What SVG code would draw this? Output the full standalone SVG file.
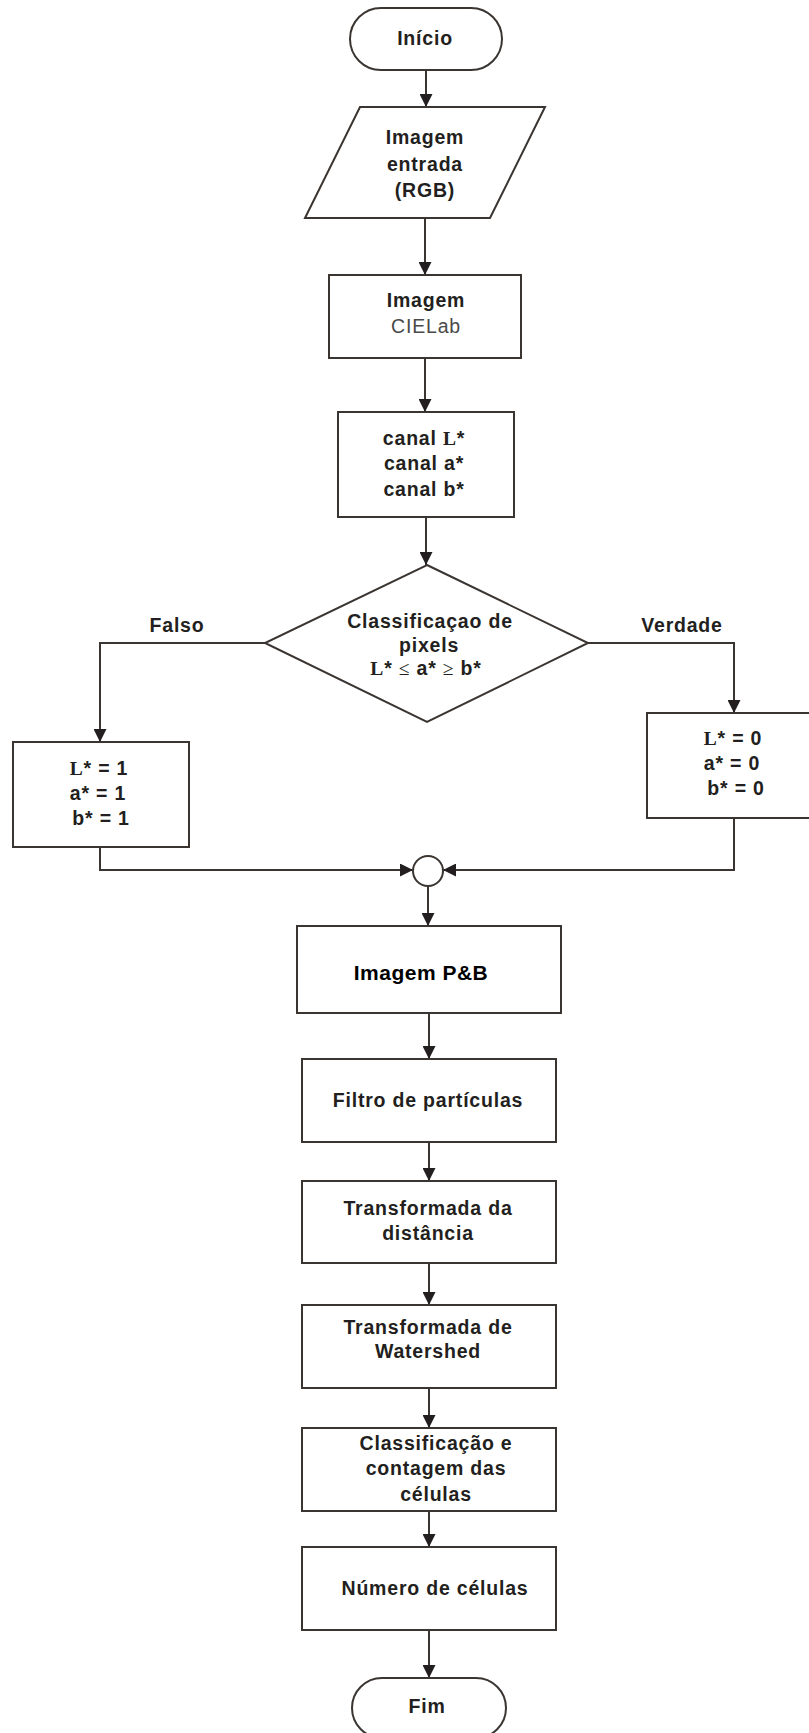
<svg xmlns="http://www.w3.org/2000/svg" width="809" height="1733" viewBox="0 0 809 1733">
<defs>
<marker id="arr" markerUnits="userSpaceOnUse" markerWidth="14" markerHeight="13" refX="13" refY="6.5" orient="auto">
<path d="M0,0 L13,6.5 L0,13 z" fill="#231f20"/>
</marker>
<style>
.s{fill:#fff;stroke:#3b3531;stroke-width:2}
.c{fill:none;stroke:#3b3531;stroke-width:2;marker-end:url(#arr)}
.t{font-family:"Liberation Sans",Arial,sans-serif;font-weight:bold;font-size:19.5px;letter-spacing:0.8px;fill:#231f20;text-anchor:middle}
.r{font-weight:normal;fill:#4a4a4a}
.sf{font-family:"Liberation Serif","Times New Roman",serif}
</style>
</defs>
<rect width="809" height="1733" fill="#fff"/>
<g id="connectors">
<path class="c" d="M426,70 V107"/>
<path class="c" d="M425,218 V275"/>
<path class="c" d="M425,358 V412"/>
<path class="c" d="M426,517 V565"/>
<path class="c" d="M265,643 H100 V742"/>
<path class="c" d="M588,643 H734 V713"/>
<path class="c" d="M100,847 V870 H413"/>
<path class="c" d="M734,818 V870 H443"/>
<path class="c" d="M428,886 V926"/>
<path class="c" d="M429,1013 V1059"/>
<path class="c" d="M429,1142 V1181"/>
<path class="c" d="M429,1263 V1305"/>
<path class="c" d="M429,1388 V1428"/>
<path class="c" d="M429,1511 V1547"/>
<path class="c" d="M429,1630 V1678"/>
</g>
<g id="inicio">
<rect class="s" x="350" y="8" width="152" height="62" rx="31" ry="31"/>
<text class="t" x="425" y="45">Início</text>
</g>
<g id="entrada">
<polygon class="s" points="360,107 545,107 490,218 305,218"/>
<text class="t" x="425" y="144">Imagem</text>
<text class="t" x="425" y="171">entrada</text>
<text class="t" x="425" y="197">(RGB)</text>
</g>
<g id="cielab">
<rect class="s" x="329" y="275" width="192" height="83"/>
<text class="t" x="426" y="307">Imagem</text>
<text class="t r" x="426" y="333">CIELab</text>
</g>
<g id="canais">
<rect class="s" x="338" y="412" width="176" height="105"/>
<text class="t" x="424" y="445">canal <tspan class="sf">L</tspan>*</text>
<text class="t" x="424" y="470">canal a*</text>
<text class="t" x="424" y="496">canal b*</text>
</g>
<g id="decisao">
<polygon class="s" points="427,565 588,643 427,722 265,643"/>
<text class="t" x="430" y="628">Classificaçao de</text>
<text class="t" x="429" y="652">pixels</text>
<text class="t" x="426" y="675"><tspan class="sf">L</tspan>* <tspan class="sf" font-weight="normal">≤</tspan> a* <tspan class="sf" font-weight="normal">≥</tspan> b*</text>
</g>
<g id="label-falso">
<text class="t" x="177" y="632">Falso</text>
</g>
<g id="label-verdade">
<text class="t" x="682" y="632">Verdade</text>
</g>
<g id="falso-box">
<rect class="s" x="13" y="742" width="176" height="105"/>
<text class="t" x="99" y="775"><tspan class="sf">L</tspan>* = 1</text>
<text class="t" x="98" y="800">a* = 1</text>
<text class="t" x="101" y="825">b* = 1</text>
</g>
<g id="verdade-box">
<rect class="s" x="647" y="713" width="170" height="105"/>
<text class="t" x="733" y="745"><tspan class="sf">L</tspan>* = 0</text>
<text class="t" x="732" y="770">a* = 0</text>
<text class="t" x="736" y="795">b* = 0</text>
</g>
<g id="juncao">
<circle class="s" cx="428" cy="871" r="15"/>
</g>
<g id="pb">
<rect class="s" x="297" y="926" width="264" height="87"/>
<text class="t" x="421" y="980" style="font-size:21px;letter-spacing:0.5px;fill:#000">Imagem P&amp;B</text>
</g>
<g id="filtro">
<rect class="s" x="302" y="1059" width="254" height="83"/>
<text class="t" x="428" y="1107">Filtro de partículas</text>
</g>
<g id="distancia">
<rect class="s" x="302" y="1181" width="254" height="82"/>
<text class="t" x="428" y="1215">Transformada da</text>
<text class="t" x="428" y="1240">distância</text>
</g>
<g id="watershed">
<rect class="s" x="302" y="1305" width="254" height="83"/>
<text class="t" x="428" y="1334">Transformada de</text>
<text class="t" x="428" y="1358">Watershed</text>
</g>
<g id="classificacao">
<rect class="s" x="302" y="1428" width="254" height="83"/>
<text class="t" x="436" y="1450">Classificação e</text>
<text class="t" x="436" y="1475">contagem das</text>
<text class="t" x="436" y="1501">células</text>
</g>
<g id="numero">
<rect class="s" x="302" y="1547" width="254" height="83"/>
<text class="t" x="435" y="1595">Número de células</text>
</g>
<g id="fim">
<rect class="s" x="352" y="1678" width="154" height="60" rx="30" ry="30"/>
<text class="t" x="427" y="1713">Fim</text>
</g>
</svg>
